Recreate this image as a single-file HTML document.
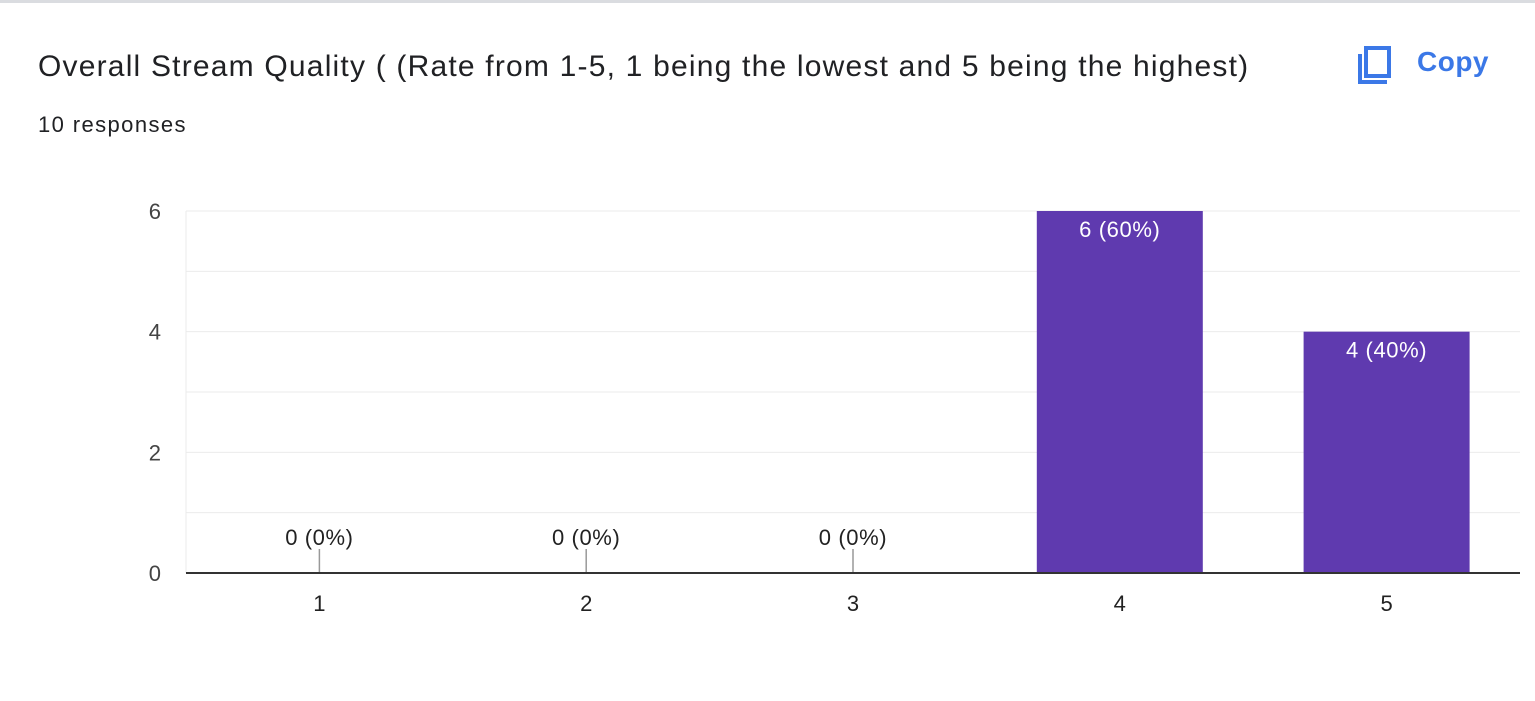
<!DOCTYPE html>
<html><head><meta charset="utf-8"><style>
body{margin:0;width:1535px;height:701px;background:#fff;overflow:hidden;font-family:"Liberation Sans",Arial,sans-serif;position:relative}
.t{position:absolute;white-space:nowrap}
</style></head><body>
<div style="position:absolute;left:0;top:0;width:1535px;height:3px;background:#dadce0"></div>
<div class="t" style="left:38px;top:50px;font-size:30px;letter-spacing:1.2px;color:#202124">Overall Stream Quality ( (Rate from 1-5, 1 being the lowest and 5 being the highest)</div>
<div class="t" style="left:38px;top:112px;font-size:22px;letter-spacing:1.4px;color:#202124">10 responses</div>
<div style="position:absolute;left:1355px;top:42px;width:140px;height:44px">
<svg width="40" height="44" style="position:absolute;left:0;top:0"><path d="M5 12 V40 H32" fill="none" stroke="#3b78e7" stroke-width="4"/><rect x="11" y="6" width="23" height="28" fill="none" stroke="#3b78e7" stroke-width="4"/></svg>
<div class="t" style="left:62px;top:4px;font-size:28px;letter-spacing:0.5px;color:#3b78e7;font-weight:bold">Copy</div>
</div>
<svg id="chart" width="1535" height="701" style="position:absolute;left:0;top:0"></svg>
<script>
const categories=["1","2","3","4","5"];
const counts=[0,0,0,6,4];
const percents=["0%","0%","0%","60%","40%"];
const yTicks=[0,2,4,6];
const NS="http://www.w3.org/2000/svg";
const svg=document.getElementById('chart');
const L=186,R=1520,B=573,T=211,yMax=6;
const y=v=>B-(B-T)*v/yMax;
const band=(R-L)/categories.length;
const xc=i=>L+band*(i+0.5);
const F='Liberation Sans, Arial, sans-serif';
function mk(tag,a){const e=document.createElementNS(NS,tag);for(const k in a)e.setAttribute(k,a[k]);svg.appendChild(e);return e;}
for(let v=0;v<=yMax;v+=1){
 const g=mk('line',{x1:L,x2:R,y1:y(v),y2:y(v),stroke:'#ebebeb','stroke-width':1});
 
 
}
const la=mk('line',{x1:L,x2:L,y1:T,y2:B,stroke:'#ebebeb'});


yTicks.forEach(v=>{
 const t=mk('text',{x:161,y:y(v)+8,'text-anchor':'end','font-size':22,fill:'#444','font-family':F});
 t.textContent=v;
 
 
});
categories.forEach((c,i)=>{
 const v=counts[i];const lbl=v+" ("+percents[i]+")";
 if(v>0){
  const r=mk('rect',{x:xc(i)-83,y:y(v),width:166,height:B-y(v),fill:'#5f3aaf'});
  
  
  const t=mk('text',{x:xc(i),y:y(v)+26,'text-anchor':'middle','font-size':22,'letter-spacing':0.6,fill:'#fff','font-family':F});
  t.textContent=lbl;
  
  
 }else{
  const s=mk('line',{x1:xc(i),x2:xc(i),y1:B-24,y2:B,stroke:'#999','stroke-width':1.5});
  
  
  const t=mk('text',{x:xc(i),y:B-28,'text-anchor':'middle','font-size':22,'letter-spacing':0.6,fill:'#222','font-family':F});
  t.textContent=lbl;
  
  
 }
 const x=mk('text',{x:xc(i),y:611,'text-anchor':'middle','font-size':22,fill:'#222','font-family':F});
 x.textContent=c;
 
 
});
const ax=mk('line',{x1:L,x2:R,y1:B,y2:B,stroke:'#333','stroke-width':2});


</script>
</body></html>
